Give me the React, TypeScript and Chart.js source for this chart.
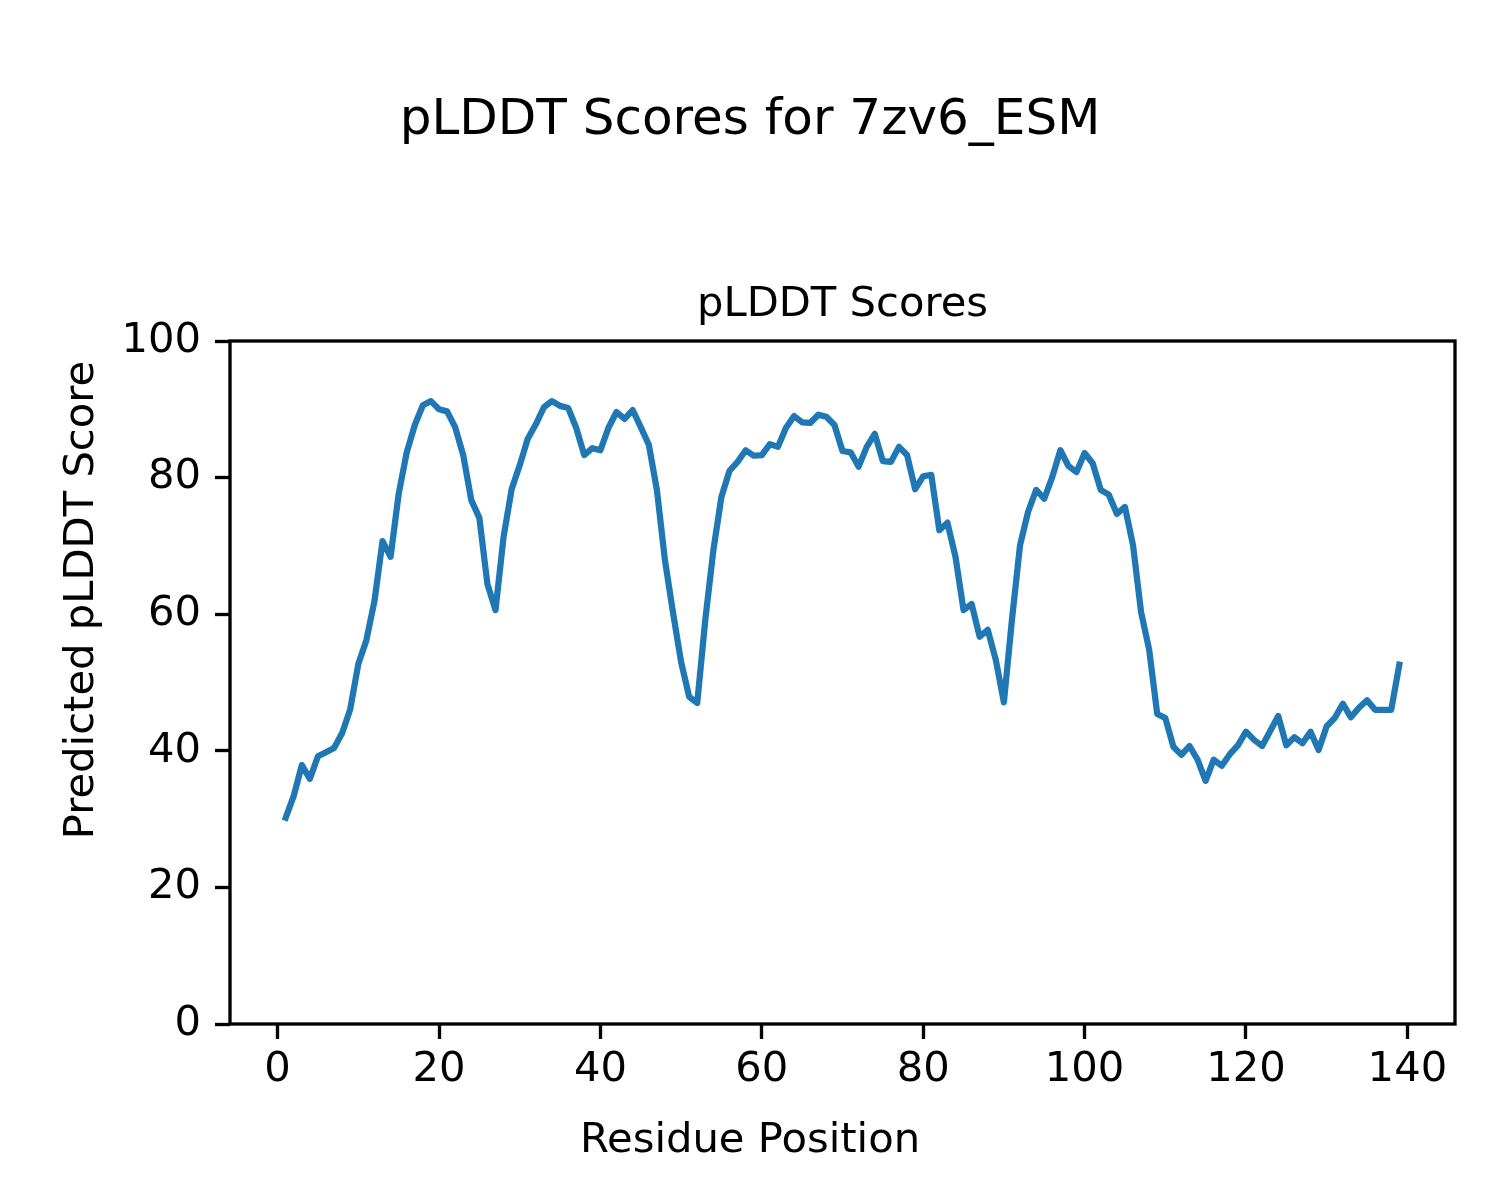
import React, { useEffect, useRef } from "react";
import { Chart, registerables } from "chart.js";

Chart.register(...registerables);

const figureTitle = "pLDDT Scores for 7zv6_ESM";
const axesTitle = "pLDDT Scores";
const xLabel = "Residue Position";
const yLabel = "Predicted pLDDT Score";

const scores: number[] = [
  30.2, 33.4, 37.9, 35.9, 39.2, 39.8, 40.4, 42.6, 46.1, 52.7,
  56.2, 61.9, 70.7, 68.4, 77.6, 83.7, 87.7, 90.6, 91.2, 90.0,
  89.7, 87.4, 83.3, 76.7, 74.1, 64.4, 60.6, 71.3, 78.3, 81.8,
  85.7, 87.8, 90.3, 91.2, 90.5, 90.2, 87.3, 83.3, 84.3, 84.0,
  87.3, 89.6, 88.6, 89.9, 87.4, 84.8, 78.2, 67.9, 60.2, 53.0,
  47.9, 47.0, 59.2, 69.4, 77.2, 81.0, 82.3, 84.0, 83.2, 83.3,
  84.9, 84.5, 87.3, 89.0, 88.1, 88.0, 89.2, 88.9, 87.7, 83.9,
  83.7, 81.6, 84.5, 86.4, 82.4, 82.3, 84.5, 83.3, 78.3, 80.2,
  80.4, 72.3, 73.4, 68.4, 60.6, 61.5, 56.7, 57.7, 53.3, 47.1,
  59.2, 70.1, 75.0, 78.2, 76.9, 80.1, 84.0, 81.7, 80.8, 83.6,
  82.1, 78.2, 77.5, 74.7, 75.7, 70.1, 60.3, 54.8, 45.4, 44.8,
  40.6, 39.4, 40.7, 38.7, 35.6, 38.7, 37.8, 39.5, 40.8, 42.8,
  41.6, 40.7, 42.9, 45.1, 40.8, 42.0, 41.1, 42.8, 40.1, 43.6,
  44.8, 46.9, 44.9, 46.3, 47.4, 46.0, 46.0, 46.0, 52.6,
];

const xTicks: number[] = [0, 20, 40, 60, 80, 100, 120, 140];
const yTicks: number[] = [0, 20, 40, 60, 80, 100];

const FONT = '"DejaVu Sans", "Liberation Sans", sans-serif';

export default function App() {
  const ref = useRef<HTMLCanvasElement | null>(null);

  useEffect(() => {
    if (!ref.current) return;
    const points = scores.map((s, i) => ({ x: i + 1, y: s }));
    const n = scores.length;
    const xMargin = (n - 1) * 0.05;

    const framePlugin = {
      id: "frameAndTitles",
      afterDraw(chart: any) {
        const { ctx, chartArea } = chart;
        const { left, right, top, bottom } = chartArea;
        ctx.save();
        ctx.strokeStyle = "#000";
        ctx.lineWidth = 3.33;
        ctx.lineJoin = "miter";
        ctx.strokeRect(left, top, right - left, bottom - top);

        ctx.fillStyle = "#000";
        ctx.textAlign = "center";
        ctx.textBaseline = "alphabetic";
        ctx.font = `50px ${FONT}`;
        ctx.fillText(figureTitle, 750, 134);

        ctx.font = `41.7px ${FONT}`;
        ctx.fillText(axesTitle, (left + right) / 2, 316);
        ctx.fillText(xLabel, 750, 1152);

        ctx.translate(93, 600);
        ctx.rotate(-Math.PI / 2);
        ctx.fillText(yLabel, 0, 0);
        ctx.restore();
      },
    };

    const chart = new Chart(ref.current, {
      type: "line",
      data: {
        datasets: [
          {
            data: points,
            borderColor: "#1f77b4",
            borderWidth: 6.25,
            pointRadius: 0,
            tension: 0,
            fill: false,
            borderJoinStyle: "round",
            borderCapStyle: "square",
          },
        ],
      },
      options: {
        animation: false,
        responsive: false,
        devicePixelRatio: 1,
        layout: { padding: { left: 0, top: 341, right: 45, bottom: 0 } },
        plugins: {
          legend: { display: false },
          tooltip: { enabled: false },
          title: { display: false },
        },
        scales: {
          x: {
            type: "linear",
            min: 1 - xMargin,
            max: n + xMargin,
            afterFit(scale: any) {
              scale.height = 176;
            },
            afterBuildTicks(scale: any) {
              scale.ticks = xTicks.map((v) => ({ value: v }));
            },
            ticks: {
              color: "#000",
              font: { family: FONT, size: 41.7 },
              padding: 6,
              maxRotation: 0,
              autoSkip: false,
            },
            grid: {
              display: true,
              drawOnChartArea: false,
              drawTicks: true,
              tickLength: 15,
              tickWidth: 3.33,
              tickColor: "#000",
            },
            border: { display: false },
          },
          y: {
            type: "linear",
            min: 0,
            max: 100,
            afterFit(scale: any) {
              scale.width = 230;
            },
            afterBuildTicks(scale: any) {
              scale.ticks = yTicks.map((v) => ({ value: v }));
            },
            ticks: {
              color: "#000",
              font: { family: FONT, size: 41.7 },
              padding: 14,
              autoSkip: false,
            },
            grid: {
              display: true,
              drawOnChartArea: false,
              drawTicks: true,
              tickLength: 15,
              tickWidth: 3.33,
              tickColor: "#000",
            },
            border: { display: false },
          },
        },
      },
      plugins: [framePlugin],
    } as any);

    return () => chart.destroy();
  }, []);

  return (
    <div
      style={{
        position: "absolute",
        left: 0,
        top: 0,
        width: 1500,
        height: 1200,
        background: "#fff",
      }}
    >
      <canvas ref={ref} width={1500} height={1200} style={{ width: 1500, height: 1200 }} />
    </div>
  );
}
